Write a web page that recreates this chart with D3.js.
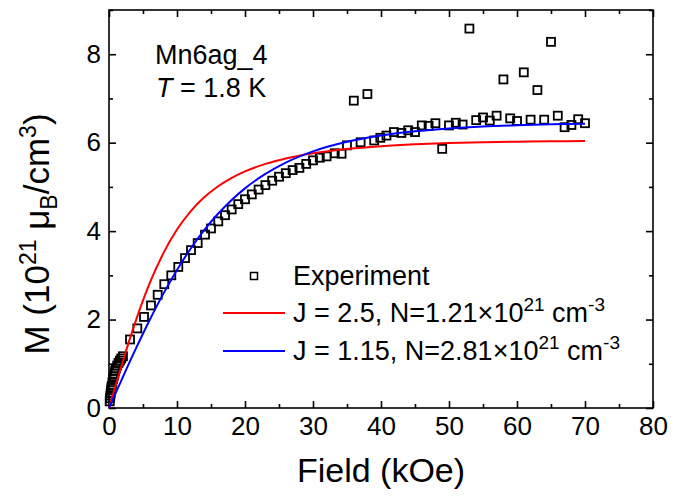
<!DOCTYPE html>
<html><head><meta charset="utf-8">
<script src="https://cdn.jsdelivr.net/npm/d3@7"></script>
<style>
body{margin:0;background:#fff;}
text{font-family:"Liberation Sans",Arial,sans-serif;fill:#000;}
</style></head>
<body><svg id="c" width="684" height="498"></svg>
<script>
// Experimental data (field in kOe, M in 10^21 muB/cm^3)
const expField = [0.1,0.15,0.2,0.25,0.3,0.35,0.4,0.5,0.6,0.7,0.8,0.9,1.0,1.2,1.4,1.6,1.8,2.05,
  3.09,4.16,5.15,6.18,7.16,8.13,9.16,10.19,11.18,12.06,13.04,14.12,15.0,16.07,17.06,18.04,19.01,
  20,21,22,23,24,25,26,27,28,29,30,31,32,33.2,34.2,35,36,37,38,39,39.9,40.8,41.9,43,44,45,46,47,48,49,
  50,51,52,53,54,55,56,57,58,59,60,61,62,63,64,65,66,67,68,69,70];
const expM = [0.15,0.22,0.28,0.34,0.40,0.45,0.50,0.58,0.66,0.72,0.78,0.84,0.89,0.96,1.02,1.07,1.12,1.17,
  1.55,1.80,2.06,2.32,2.56,2.80,3.00,3.19,3.39,3.57,3.73,3.92,4.06,4.22,4.36,4.49,4.61,
  4.72,4.83,4.94,5.04,5.14,5.23,5.31,5.38,5.43,5.52,5.60,5.66,5.69,5.76,5.75,5.94,6.95,6.01,7.10,6.05,6.11,6.16,6.24,6.22,6.28,6.24,6.39,6.38,6.44,5.86,
  6.39,6.45,6.41,8.58,6.51,6.57,6.50,6.61,7.43,6.55,6.49,7.59,6.52,7.19,6.52,8.28,6.61,6.35,6.40,6.53,6.44];

// Fit curves
const redField = [0,1,2,3,4,5,6,8,10,12,14,16,18,20,23,26,30,35,40,45,50,55,60,65,70];
const redM     = [0,0.525,1.039,1.534,2.00,2.432,2.827,3.502,4.035,4.447,4.765,5.010,5.200,5.350,5.520,5.644,5.761,5.858,5.921,5.963,5.991,6.009,6.022,6.031,6.037];
const blueField = [0,2,4,6,8,10,12,14,16,18,20,23,26,30,35,40,45,50,55,60,65,70];
const blueM     = [0,0.688,1.358,1.995,2.586,3.122,3.601,4.021,4.386,4.699,4.967,5.294,5.549,5.802,6.019,6.162,6.258,6.322,6.366,6.395,6.416,6.430];

const xMajor = [0,10,20,30,40,50,60,70,80];
const xMinor = [5,15,25,35,45,55,65,75];
const yMajor = [0,2,4,6,8];
const yMinor = [1,3,5,7,9];

const svg = d3.select("#c");
const L=109,R=653,T=10,B=408;
const x = d3.scaleLinear().domain([0,80]).range([L,R]);
const y = d3.scaleLinear().domain([0,9]).range([B,T]);

function styleAxis(g){ g.select(".domain").remove(); g.selectAll("line").attr("stroke","#000").attr("stroke-width",1.6); g.selectAll("text").style("font-size","26px").attr("fill","#000"); }

// minor ticks
svg.append("g").attr("transform",`translate(0,${B})`).call(d3.axisBottom(x).tickValues(xMinor).tickSize(-4).tickFormat("")).call(styleAxis);
svg.append("g").attr("transform",`translate(0,${T})`).call(d3.axisTop(x).tickValues(xMinor).tickSize(-4).tickFormat("")).call(styleAxis);
svg.append("g").attr("transform",`translate(${L},0)`).call(d3.axisLeft(y).tickValues(yMinor).tickSize(-4).tickFormat("")).call(styleAxis);
svg.append("g").attr("transform",`translate(${R},0)`).call(d3.axisRight(y).tickValues(yMinor).tickSize(-4).tickFormat("")).call(styleAxis);
// major ticks
svg.append("g").attr("transform",`translate(0,${B})`).call(d3.axisBottom(x).tickValues(xMajor).tickSize(-7).tickPadding(9).tickFormat(d3.format("d"))).call(styleAxis);
svg.append("g").attr("transform",`translate(0,${T})`).call(d3.axisTop(x).tickValues(xMajor).tickSize(-7).tickFormat("")).call(styleAxis);
svg.append("g").attr("transform",`translate(${L},0)`).call(d3.axisLeft(y).tickValues(yMajor).tickSize(-7).tickPadding(8).tickFormat(d3.format("d"))).call(styleAxis);
svg.append("g").attr("transform",`translate(${R},0)`).call(d3.axisRight(y).tickValues(yMajor).tickSize(-7).tickFormat("")).call(styleAxis);

// frame
svg.append("rect").attr("x",L).attr("y",T).attr("width",R-L).attr("height",B-T).attr("fill","none").attr("stroke","#000").attr("stroke-width",1.6);

// experimental squares
const pts = expField.map((f,i)=>[f,expM[i]]);
const s=8;
svg.append("g").selectAll("rect").data(pts).join("rect")
  .attr("x",d=>x(d[0])-s/2).attr("y",d=>y(d[1])-s/2).attr("width",s).attr("height",s)
  .attr("fill","none").attr("stroke","#000").attr("stroke-width",1.8);

const line = d3.line().x(d=>x(d[0])).y(d=>y(d[1])).curve(d3.curveMonotoneX);
svg.append("path").datum(redField.map((f,i)=>[f,redM[i]])).attr("d",line).attr("fill","none").attr("stroke","#ff0000").attr("stroke-width",2);
svg.append("path").datum(blueField.map((f,i)=>[f,blueM[i]])).attr("d",line).attr("fill","none").attr("stroke","#0000ff").attr("stroke-width",2);

// axis titles
svg.append("text").attr("x",(L+R)/2).attr("y",482).attr("text-anchor","middle").style("font-size","34px").text("Field (kOe)");
const yl = svg.append("text").attr("transform",`translate(49,234) rotate(-90)`).attr("text-anchor","middle").style("font-size","35px");
yl.append("tspan").text("M (10");
yl.append("tspan").attr("dy",-13).style("font-size","23px").text("21");
yl.append("tspan").attr("dy",13).text(" \u03bc");
yl.append("tspan").attr("dy",8).style("font-size","23px").text("B");
yl.append("tspan").attr("dy",-8).text("/cm");
yl.append("tspan").attr("dy",-13).style("font-size","23px").text("3");
yl.append("tspan").attr("dy",13).text(")");

// annotation
svg.append("text").attr("x",155).attr("y",64).style("font-size","27px").text("Mn6ag_4");
const t2 = svg.append("text").attr("x",156).attr("y",97).style("font-size","27px");
t2.append("tspan").style("font-style","italic").text("T");
t2.append("tspan").text(" = 1.8 K");

// legend
svg.append("rect").attr("x",254-3.5).attr("y",276-3.5).attr("width",7).attr("height",7).attr("fill","none").attr("stroke","#000").attr("stroke-width",1.5);
svg.append("text").attr("x",293).attr("y",285).style("font-size","27px").text("Experiment");
const legRows = [{c:"#ff0000",y:313,j:"2.5",n:"1.21"},{c:"#0000ff",y:351,j:"1.15",n:"2.81"}];
legRows.forEach(r=>{
  svg.append("line").attr("x1",223).attr("x2",285).attr("y1",r.y).attr("y2",r.y).attr("stroke",r.c).attr("stroke-width",2);
  const t = svg.append("text").attr("x",293).attr("y",r.y+9).style("font-size","27px");
  t.append("tspan").text(`J = ${r.j}, N=${r.n}\u00d710`);
  t.append("tspan").attr("dy",-11).style("font-size","19px").text("21");
  t.append("tspan").attr("dy",11).text(" cm");
  t.append("tspan").attr("dy",-11).style("font-size","19px").text("-3");
});
</script></body></html>
